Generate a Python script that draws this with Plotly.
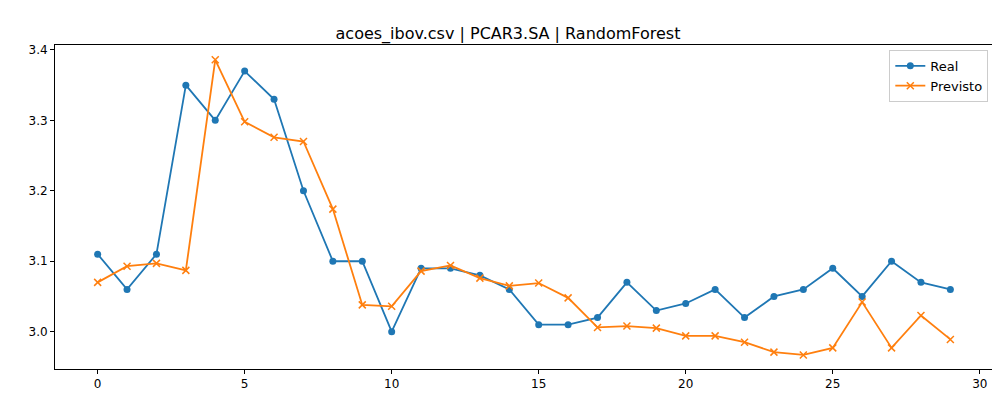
import plotly.graph_objects as go

x_vals = list(range(30))
real = [3.11, 3.06, 3.11, 3.35, 3.30, 3.37, 3.33, 3.20, 3.10, 3.10,
        3.00, 3.09, 3.09, 3.08, 3.06, 3.01, 3.01, 3.02, 3.07, 3.03,
        3.04, 3.06, 3.02, 3.05, 3.06, 3.09, 3.05, 3.10, 3.07, 3.06]
previsto = [3.070, 3.093, 3.097, 3.087, 3.386, 3.298, 3.276, 3.270, 3.174, 3.038,
            3.036, 3.086, 3.094, 3.076, 3.065, 3.069, 3.048, 3.006, 3.008, 3.005,
            2.994, 2.994, 2.985, 2.971, 2.967, 2.977, 3.042, 2.977, 3.023, 2.989]

fig = go.Figure()
fig.add_trace(go.Scatter(x=x_vals, y=real, mode="lines+markers", name="Real",
                         line=dict(color="#1f77b4", width=1.8),
                         marker=dict(symbol="circle", size=7, color="#1f77b4")))
fig.add_trace(go.Scatter(x=x_vals, y=previsto, mode="lines+markers", name="Previsto",
                         line=dict(color="#ff7f0e", width=1.8),
                         marker=dict(symbol="x-thin", size=7,
                                     line=dict(color="#ff7f0e", width=1.5))))

axis_style = dict(showgrid=False, zeroline=False, showline=True, mirror=True,
                  linecolor="black", linewidth=1, ticks="outside", ticklen=4,
                  tickcolor="black", tickfont=dict(size=12, color="black"),
                  automargin=False)

fig.update_layout(
    width=1000, height=400,
    paper_bgcolor="white", plot_bgcolor="white",
    font=dict(family="DejaVu Sans", color="black"),
    title=dict(text="acoes_ibov.csv | PCAR3.SA | RandomForest", x=0.5,
               xanchor="center", y=0.95, font=dict(size=16)),
    margin=dict(l=47, r=15, t=37, b=39, autoexpand=False),
    showlegend=True,
    legend=dict(x=0.995, y=0.985, xanchor="right", yanchor="top",
                bordercolor="#cccccc", borderwidth=1, bgcolor="white",
                font=dict(size=13)),
    xaxis=dict(range=[-1.45, 30.45], tickvals=[0, 5, 10, 15, 20, 25, 30], **axis_style),
    yaxis=dict(range=[2.947, 3.407], tickvals=[3.0, 3.1, 3.2, 3.3, 3.4],
               tickformat=".1f", **axis_style),
)

fig.write_html("out.html")
